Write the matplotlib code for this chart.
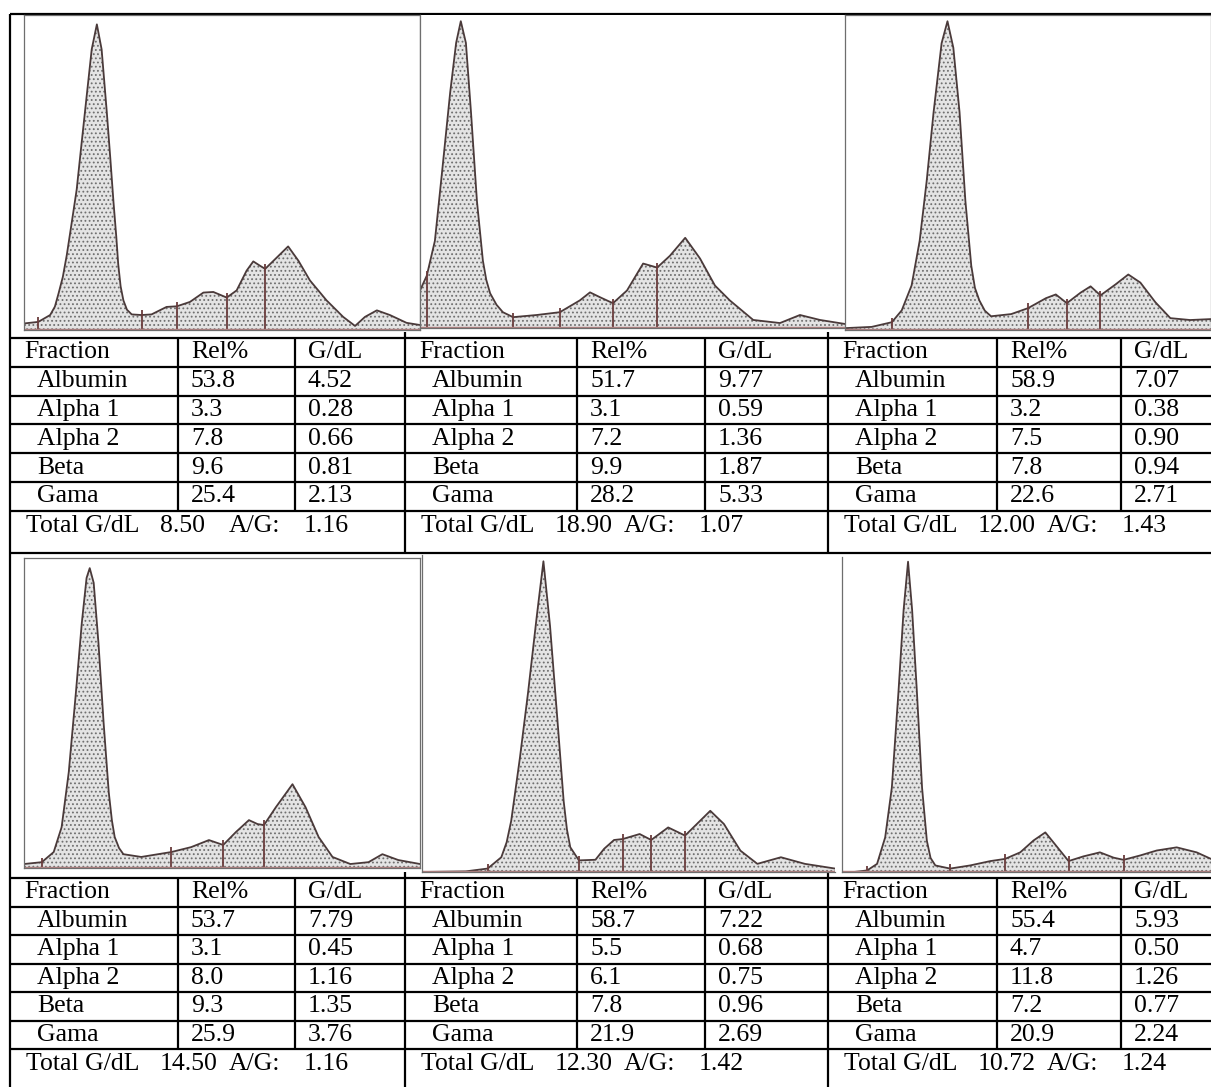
import matplotlib.pyplot as plt
import numpy as np

plt.rcParams['font.family'] = ['Liberation Serif', 'DejaVu Serif']
plt.rcParams['hatch.linewidth'] = 0.8

W, H = 1211, 1087

# densitometry traces: migration (0-100) and relative density (0-100)
t1_x = [0, 3.6, 6.6, 7.8, 8.7, 9.8, 10.8, 12, 13.3, 14.3, 15.4, 17.1, 18.4, 19.6, 20.9, 21.8,
        22.6, 23.3, 23.8, 24.4, 25.1, 26, 27.2, 29.7,
        32.2, 36, 38.6, 41.9, 45.3, 47.8, 51.2, 53.7, 56.2, 57.9, 59.6, 60.9, 63, 66.7, 69.3,
        72.2, 76.4, 80.6, 83.6, 86.1, 89.1, 92.4, 96.6, 100]
t1_y = [2.1, 2.6, 4.8, 7.5, 11.6, 17, 24, 34, 45, 57, 70, 90, 98, 90, 70, 55,
        41, 30, 21, 14, 9.5, 6.5, 5, 4.8,
        5, 7.4, 7.6, 9, 12, 12.2, 10.4, 12.7, 19, 22, 20.6, 19.6, 22.2, 26.8, 22.2,
        15.9, 9.5, 4.2, 1.3, 4.2, 6.3, 4.8, 2.3, 1.6]
t1_div = [3.6, 29.7, 38.6, 51.2, 60.9]

t2_x = [0, 1.6, 3.5, 5.2, 7.1, 8.5, 9.6, 10.8, 12, 13.4, 14.8, 15.6, 16.5, 18, 19.5, 21.9, 27.5,
        32.9, 37.6, 40, 42.4, 45.4, 48.7, 52.5, 55.8, 58.8, 62.4, 65.9, 69.4, 72.9, 78.4, 84.7,
        89.4, 94.1, 100]
t2_y = [12.1, 16.9, 28.1, 50.5, 76, 92, 99, 92, 69.6, 40.9, 21.7, 15.5, 11.2, 7.5, 5.1, 3.5, 4.2,
        5.1, 8.9, 11.5, 9.9, 8, 12.1, 20.8, 19.5, 23.3, 29.1, 22.4, 13.7, 8.9, 2.6, 1.6,
        4.2, 2.6, 1.3]
t2_div = [1.6, 21.9, 32.9, 45.4, 55.8]

t3_x = [0, 7.3, 12.8, 15.5, 18.2, 20.4, 22.3, 24.2, 26.4, 28, 29.6, 31.3, 32.9, 34.5, 35.5,
        36.7, 38.2, 39.9, 45.4, 50, 54.9, 57.6, 60.6, 64.4, 67.1, 69.8, 73.9, 77.4, 80.7,
        84.8, 88.9, 94.3, 100]
t3_y = [0.6, 1, 2.5, 6.3, 14.3, 28.6, 47.6, 69.8, 92, 99, 90.5, 69.8, 41.3, 20.6, 13.5,
        9.5, 6.2, 4.4, 5.1, 7, 10.2, 11.4, 8.6, 12, 14, 11.1, 14.6, 17.8, 15.2,
        8.9, 3.8, 3.2, 3.5]
t3_div = [12.8, 50, 60.6, 69.8]

t4_x = [0, 4.5, 7.5, 9.5, 11.3, 13.1, 14.6, 15.8, 16.6, 17.6, 18.8, 20.1, 21.4, 22.2, 22.9,
        24, 25.1, 29.6, 37.2, 42.2, 46.7, 50.3, 53.5, 56.8, 59, 60.6, 63.6, 67.8, 71.1, 74.4,
        77.9, 82.4, 87, 90.5, 94.5, 100]
t4_y = [1.3, 1.9, 5.2, 13.3, 31.2, 57.1, 79.9, 94.5, 97.7, 92.9, 73.4, 47.4, 24.7, 15.5, 10.1,
        6.5, 4.5, 3.6, 5.2, 6.8, 9.1, 7.5, 11.7, 15.6, 14.3, 14, 19.8, 27.3, 19.8, 10.1,
        3.6, 1.3, 1.9, 4.5, 2.6, 1.3]
t4_div = [4.5, 37.2, 50.3, 60.6]

t5_x = [0, 10.6, 15.9, 19.2, 20.5, 21.6, 23.7, 25.7, 27.8, 29.4, 31, 32.7, 34.3, 35.1, 35.9,
        38, 42, 44.1, 46.5, 48.6, 52.7, 55.5, 59.6, 63.7, 69.8, 73.1, 77.1, 81.2, 86.9,
        92.7, 100]
t5_y = [0, 0.2, 1.1, 4.7, 9.5, 16.3, 36.3, 57.4, 81.6, 99, 78.4, 50, 22.6, 13.5, 7.9,
        3.7, 3.9, 7.4, 10.2, 10.5, 12.1, 10.2, 14.2, 11.6, 19.5, 15.3, 6.8, 2.6, 4.7,
        2.6, 1.1]
t5_div = [15.9, 38, 48.6, 55.5, 63.7]

t6_x = [3.2, 6.8, 9.5, 11.7, 13.5, 15.3, 16.7, 17.9, 19, 20.3, 21.7, 23, 24, 25.3, 29.3,
        34.7, 40.2, 44.2, 48.3, 51.9, 55.1, 57.3, 61.4, 65.4, 69.9, 73.6, 76.3, 80.8, 85.3,
        90.7, 96.1, 100]
t6_y = [0, 0.5, 2.6, 11.1, 27, 57.7, 84.1, 99.5, 84.1, 57.7, 27, 10, 4.5, 2.1, 1.1,
        2.1, 3.5, 4.2, 6.3, 10.1, 12.7, 9.5, 3.5, 5, 6.3, 4.6, 3.9, 5.3, 6.9,
        7.9, 6.3, 4.2]
t6_div = [6.8, 29.3, 44.2, 61.4, 76.3]

# tables
fractions = ['Albumin', 'Alpha 1', 'Alpha 2', 'Beta', 'Gama']
rel_pct = [['53.8', '3.3', '7.8', '9.6', '25.4'],
           ['51.7', '3.1', '7.2', '9.9', '28.2'],
           ['58.9', '3.2', '7.5', '7.8', '22.6'],
           ['53.7', '3.1', '8.0', '9.3', '25.9'],
           ['58.7', '5.5', '6.1', '7.8', '21.9'],
           ['55.4', '4.7', '11.8', '7.2', '20.9']]
g_dl = [['4.52', '0.28', '0.66', '0.81', '2.13'],
        ['9.77', '0.59', '1.36', '1.87', '5.33'],
        ['7.07', '0.38', '0.90', '0.94', '2.71'],
        ['7.79', '0.45', '1.16', '1.35', '3.76'],
        ['7.22', '0.68', '0.75', '0.96', '2.69'],
        ['5.93', '0.50', '1.26', '0.77', '2.24']]
total_gdl = ['8.50', '18.90', '12.00', '14.50', '12.30', '10.72']
ag_ratio = ['1.16', '1.07', '1.43', '1.16', '1.42', '1.24']

traces = [(t1_x, t1_y, t1_div), (t2_x, t2_y, t2_div), (t3_x, t3_y, t3_div),
          (t4_x, t4_y, t4_div), (t5_x, t5_y, t5_div), (t6_x, t6_y, t6_div)]

# pixel boxes of the scan images (left, top, right, bottom)
img_box = [(24, 15, 420, 330), (420, 15, 845, 328), (845, 15, 1211, 330),
           (24, 558, 420, 868), (422, 555, 835, 872), (842, 557, 1211, 872)]
full_frame = [True, False, True, True, False, False]

col_lines = [[10, 178, 295, 405], [405, 577, 705, 828], [828, 997, 1121, 1211]]
table_top = [338, 878]
row_h = [28.8, 28.5]
block_bottom = [553, 1087]

fig = plt.figure(figsize=(W / 100, H / 100), dpi=100)
bg = fig.add_axes([0, 0, 1, 1])
bg.set_xlim(0, W)
bg.set_ylim(H, 0)
bg.axis('off')

lw = 1.6
bg.hlines(14, 10, W, color='black', lw=lw)
bg.vlines(10, 14, H, color='black', lw=lw)

for r in range(2):
    t0 = table_top[r]
    rows = [t0 + k * row_h[r] for k in range(7)]
    bg.hlines(rows, 10, W, color='black', lw=lw)
    if r == 0:
        bg.hlines(block_bottom[0], 10, W, color='black', lw=lw)
    for c in range(3):
        cl = col_lines[c]
        bg.vlines(cl[1:3], t0, rows[-1], color='black', lw=lw)
        if c < 2:
            bg.vlines(cl[3], t0 - 6, block_bottom[r], color='black', lw=lw)
        i = r * 3 + c
        fs = 18.5
        y = rows[0] + row_h[r] / 2
        bg.text(cl[0] + 14, y, 'Fraction', fontsize=fs, va='center')
        bg.text(cl[1] + 13, y, 'Rel%', fontsize=fs, va='center')
        bg.text(cl[2] + 13, y, 'G/dL', fontsize=fs, va='center')
        for k, name in enumerate(fractions):
            y = rows[k + 1] + row_h[r] / 2
            bg.text(cl[0] + 27, y, name, fontsize=fs, va='center')
            bg.text(cl[1] + 13, y, rel_pct[i][k], fontsize=fs, va='center')
            bg.text(cl[2] + 13, y, g_dl[i][k], fontsize=fs, va='center')
        y = rows[-1] + 15
        bg.text(cl[0] + 16, y, 'Total G/dL', fontsize=fs, va='center')
        bg.text(cl[0] + 150, y, total_gdl[i], fontsize=fs, va='center')
        bg.text(cl[0] + 219, y, 'A/G:', fontsize=fs, va='center')
        bg.text(cl[0] + 294, y, ag_ratio[i], fontsize=fs, va='center')

for i, (tx, ty, tdiv) in enumerate(traces):
    x0, y0, x1, y1 = img_box[i]
    ax = fig.add_axes([x0 / W, 1 - y1 / H, (x1 - x0) / W, (y1 - y0) / H])
    ax.set_xlim(0, 100)
    ax.set_ylim(0, 101)
    ax.set_xticks([])
    ax.set_yticks([])
    for side, sp in ax.spines.items():
        sp.set_color('#6e6e6e')
        sp.set_linewidth(0.9)
        if not full_frame[i] and side in ('top', 'right'):
            sp.set_visible(False)
    ax.fill_between(tx, ty, 0, facecolor='#e4e4e4', hatch='....',
                    edgecolor='#6f6f6f', lw=0)
    ax.plot(tx, ty, color='#4a3a3a', lw=1.3)
    tops = np.interp(tdiv, tx, ty) + 1.5
    ax.vlines(tdiv, -1, tops, color='#6a3c3c', lw=1.3)
    ax.axhline(0.3, color='#b08080', lw=1.0)

fig.savefig('out.png', dpi=100)
